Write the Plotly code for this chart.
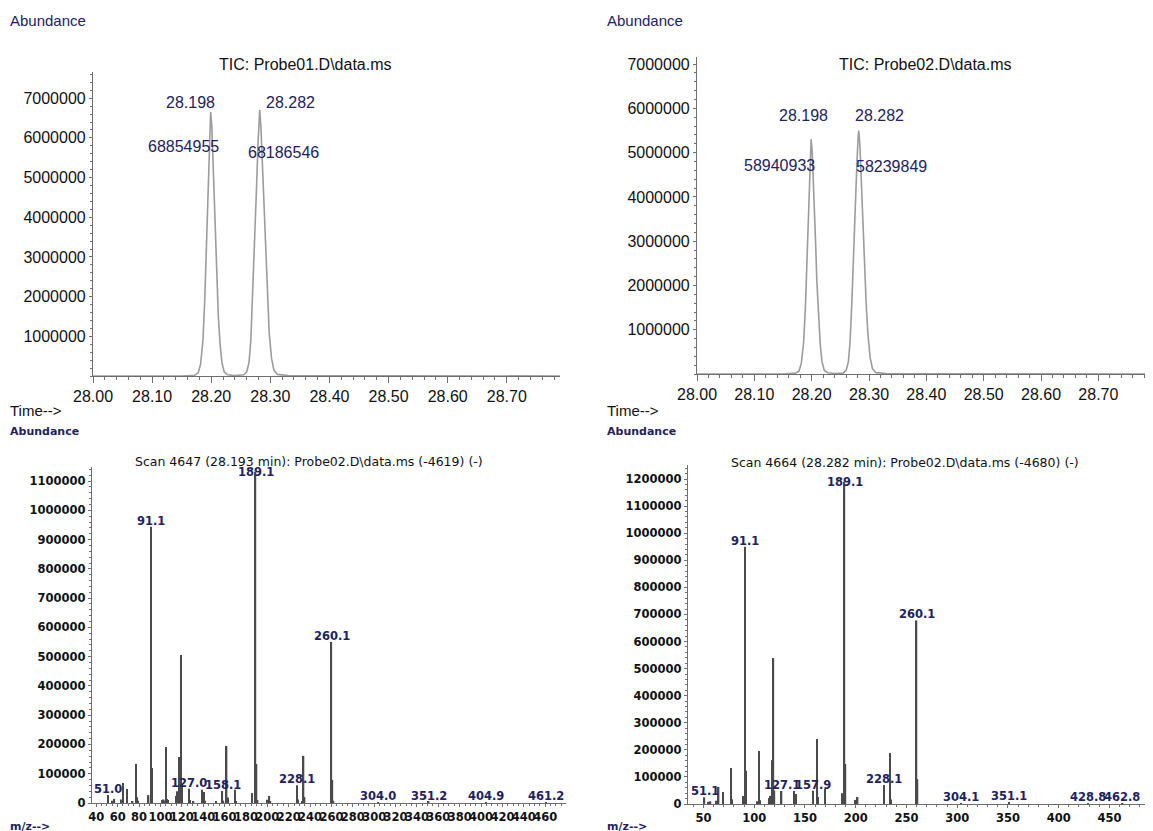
import plotly.graph_objects as go

# page offset (browser body margin) compensation
OX, OY = 8, 8
W, H = 1153 - OX, 831 - OY

# ---------------- TIC data (retention time in min, abundance) ----------------
tic_time = [28.000, 28.150, 28.172, 28.178, 28.182, 28.186, 28.189, 28.191, 28.193, 28.195,
            28.197, 28.198, 28.199, 28.201, 28.203, 28.205, 28.207, 28.209, 28.212, 28.215,
            28.218, 28.222, 28.228, 28.240, 28.255, 28.260, 28.264, 28.267, 28.270, 28.272,
            28.275, 28.277, 28.279, 28.281, 28.282, 28.284, 28.286, 28.288, 28.290, 28.292,
            28.295, 28.298, 28.302, 28.306, 28.312, 28.330, 28.790]
tic_probe01 = [0, 0, 20000, 80000, 300000, 900000, 1900000, 2900000, 3900000, 4900000,
               6000000, 6500000, 6650000, 6300000, 5500000, 4600000, 3600000, 2600000, 1500000, 800000,
               350000, 100000, 30000, 10000, 30000, 100000, 350000, 900000, 2000000, 2900000,
               4000000, 4900000, 5800000, 6500000, 6700000, 6300000, 5500000, 4700000, 3800000, 3000000,
               2000000, 1100000, 450000, 150000, 40000, 10000, 0]
tic_probe02 = [0, 0, 20000, 70000, 250000, 720000, 1500000, 2300000, 3100000, 3900000,
               4800000, 5200000, 5300000, 5000000, 4400000, 3700000, 2900000, 2100000, 1200000, 650000,
               280000, 80000, 30000, 10000, 20000, 80000, 280000, 740000, 1600000, 2400000,
               3300000, 4000000, 4800000, 5350000, 5500000, 5200000, 4500000, 3900000, 3100000, 2500000,
               1600000, 900000, 370000, 120000, 30000, 10000, 0]
tic_yticks = [1000000, 2000000, 3000000, 4000000, 5000000, 6000000, 7000000]
tic_xticks = [28.0, 28.1, 28.2, 28.3, 28.4, 28.5, 28.6, 28.7]

tic1_peaks = ["28.198", "28.282"]
tic1_areas = ["68854955", "68186546"]
tic2_peaks = ["28.198", "28.282"]
tic2_areas = ["58940933", "58239849"]

# ---------------- Mass spectra (m/z, abundance) ----------------
ms1_mz = [51, 55, 57, 63, 65, 69, 74, 77, 78, 79, 89, 91, 92, 102, 103, 104, 105, 106, 107,
          115, 116, 117, 118, 119, 120, 127, 128, 131, 139, 141, 142, 152, 158, 159, 162, 163,
          170, 171, 186, 189, 190, 191, 200, 202, 203, 228, 229, 233, 234, 235, 260, 261, 262,
          304, 351, 405, 461]
ms1_abund = [27000, 8000, 14000, 12000, 68000, 48000, 6000, 133000, 20000, 8000, 27000, 944000,
             120000, 10000, 12000, 8000, 191000, 14000, 10000, 24000, 40000, 30000, 157000, 506000,
             55000, 49000, 10000, 6000, 45000, 38000, 8000, 5000, 41000, 8000, 195000, 19000,
             45000, 5000, 34000, 1132000, 133000, 10000, 11000, 24000, 6000, 61000, 12000, 5000,
             161000, 20000, 550000, 79000, 8000, 3000, 5000, 3000, 3000]
ms1_labels = ["51.0", "91.1", "127.0", "158.1", "189.1", "228.1", "260.1",
              "304.0", "351.2", "404.9", "461.2"]

ms2_mz = [51, 55, 57, 63, 65, 69, 77, 78, 89, 91, 92, 103, 105, 106, 115, 116, 117, 118, 119,
          120, 127, 139, 141, 158, 162, 163, 170, 187, 189, 190, 200, 202, 228, 234, 235, 260,
          261, 304, 351, 429, 463]
ms2_abund = [25000, 8000, 10000, 12000, 63000, 44000, 133000, 18000, 30000, 950000, 123000,
             10000, 196000, 14000, 22000, 30000, 25000, 162000, 539000, 50000, 48000, 48000,
             37000, 49000, 240000, 26000, 55000, 40000, 1190000, 148000, 15000, 26000, 70000,
             188000, 17000, 678000, 92000, 3000, 6000, 3000, 3000]
ms2_labels = ["51.1", "91.1", "127.1", "157.9", "189.1", "228.1", "260.1",
              "304.1", "351.1", "428.8", "462.8"]

ms1_yticks = [0, 100000, 200000, 300000, 400000, 500000, 600000, 700000, 800000, 900000,
              1000000, 1100000]
ms2_yticks = [0, 100000, 200000, 300000, 400000, 500000, 600000, 700000, 800000, 900000,
              1000000, 1100000, 1200000]

NAVY = "#22225e"
AXC = "#6e6e6e"


def px(x):
    return (x - OX) / W


def py(y):
    return 1 - (y - OY) / H


fig = go.Figure()

fig.add_trace(go.Scatter(x=tic_time, y=tic_probe01, mode="lines",
                         line=dict(color="#9c9c9c", width=1.6), xaxis="x", yaxis="y"))
fig.add_trace(go.Scatter(x=tic_time, y=tic_probe02, mode="lines",
                         line=dict(color="#9c9c9c", width=1.6), xaxis="x2", yaxis="y2"))
fig.add_trace(go.Bar(x=ms1_mz, y=ms1_abund, width=1.3,
                     marker=dict(color="#4a4a4a", line=dict(width=0)), xaxis="x3", yaxis="y3"))
fig.add_trace(go.Bar(x=ms2_mz, y=ms2_abund, width=1.4,
                     marker=dict(color="#4a4a4a", line=dict(width=0)), xaxis="x4", yaxis="y4"))


def base_axis(**kw):
    d = dict(showgrid=False, zeroline=False, showline=True, linecolor=AXC, linewidth=1.2,
             ticks="outside", tickcolor=AXC, tickwidth=1, tickangle=0, fixedrange=True,
             automargin=False)
    d.update(kw)
    return d


tic_font = dict(family="Arial, Liberation Sans", size=16, color="#111111")
ms_font = dict(family="DejaVu Sans", size=11.5, color="#111111", weight="bold")

layout = dict(
    width=W, height=H, margin=dict(l=0, r=0, t=0, b=0, pad=0), autosize=False,
    paper_bgcolor="white", plot_bgcolor="white", showlegend=False,
    xaxis=base_axis(domain=[px(93), px(560)], range=[28.0, 28.79], anchor="y",
                    tickvals=tic_xticks, tickformat=".2f", ticklen=6,
                    tickfont=dict(family="Arial, Liberation Sans", size=16, color="#111"),
                    minor=dict(dtick=0.02, tick0=28.0, ticks="outside", ticklen=3, tickcolor=AXC)),
    yaxis=base_axis(domain=[py(376), py(72)], range=[0, 7660000], anchor="x",
                    tickvals=tic_yticks, tickformat="d", ticklen=3, tickfont=tic_font,
                    minor=dict(dtick=200000, tick0=0, ticks="outside", ticklen=2, tickcolor=AXC)),
    xaxis2=base_axis(domain=[px(697), px(1150)], range=[28.0, 28.79], anchor="y2",
                     tickvals=tic_xticks, tickformat=".2f", ticklen=6,
                     tickfont=dict(family="Arial, Liberation Sans", size=16, color="#111"),
                     minor=dict(dtick=0.02, tick0=28.0, ticks="outside", ticklen=3, tickcolor=AXC)),
    yaxis2=base_axis(domain=[py(374), py(57)], range=[0, 7160000], anchor="x2",
                     tickvals=tic_yticks, tickformat="d", ticklen=3, tickfont=tic_font,
                     minor=dict(dtick=200000, tick0=0, ticks="outside", ticklen=2, tickcolor=AXC)),
    xaxis3=base_axis(domain=[px(92), px(566)], range=[36, 479.5], anchor="y3",
                     dtick=20, tick0=0, ticklen=3, tickfont=ms_font,
                     minor=dict(dtick=5, tick0=0, ticks="outside", ticklen=2, tickcolor=AXC)),
    yaxis3=base_axis(domain=[py(803), py(467)], range=[0, 1148000], anchor="x3",
                     tickvals=ms1_yticks, tickformat="d", ticklen=3, tickfont=ms_font,
                     minor=dict(dtick=20000, tick0=0, ticks="outside", ticklen=2, tickcolor=AXC)),
    xaxis4=base_axis(domain=[px(688), px(1152)], range=[34.8, 492], anchor="y4",
                     dtick=50, tick0=0, ticklen=3, tickfont=ms_font,
                     minor=dict(dtick=10, tick0=0, ticks="outside", ticklen=2, tickcolor=AXC)),
    yaxis4=base_axis(domain=[py(804), py(465)], range=[0, 1252000], anchor="x4",
                     tickvals=ms2_yticks, tickformat="d", ticklen=3, tickfont=ms_font,
                     minor=dict(dtick=20000, tick0=0, ticks="outside", ticklen=2, tickcolor=AXC)),
)

ann = []


def text(x, y, s, size, color, family="Arial, Liberation Sans", xanchor="left", bold=False):
    ann.append(dict(x=px(x), y=py(y), xref="paper", yref="paper", text=(f"<b>{s}</b>" if bold else s),
                    showarrow=False, xanchor=xanchor, yanchor="middle", borderpad=0,
                    font=dict(family=family, size=size, color=color)))


# Top panel texts
for x0 in (9, 606):
    text(x0, 20, "Abundance", 15, NAVY)
    text(x0, 410, "Time-->", 15, "#111")
    text(x0, 432, "Abundance", 11, NAVY, family="DejaVu Sans", bold=True)
    text(x0, 826, "m/z-->", 11, NAVY, family="DejaVu Sans", bold=True)

text(306, 64, "TIC: Probe01.D\\data.ms", 16, "#111", xanchor="center")
text(925, 65, "TIC: Probe02.D\\data.ms", 16, "#111", xanchor="center")

# TIC peak labels
tic1_pos = [((190, 103), (183, 146)), ((290, 103), (283, 152))]
for (p_rt, p_ar), rt, ar in zip(tic1_pos, tic1_peaks, tic1_areas):
    text(p_rt[0], p_rt[1], rt, 16, NAVY, xanchor="center")
    text(p_ar[0], p_ar[1], ar, 16, NAVY, xanchor="center")
tic2_pos = [((803, 116), (779, 165)), ((879, 116), (891, 166))]
for (p_rt, p_ar), rt, ar in zip(tic2_pos, tic2_peaks, tic2_areas):
    text(p_rt[0], p_rt[1], rt, 16, NAVY, xanchor="center")
    text(p_ar[0], p_ar[1], ar, 16, NAVY, xanchor="center")

# Spectrum titles
text(309, 461, "Scan 4647 (28.193 min): Probe02.D\\data.ms (-4619) (-)", 12.5, "#111",
     family="DejaVu Sans", xanchor="center")
text(905, 462, "Scan 4664 (28.282 min): Probe02.D\\data.ms (-4680) (-)", 12.5, "#111",
     family="DejaVu Sans", xanchor="center")


def spectrum_labels(mzs, abunds, labels, xa, ya, ymax):
    lookup = dict(zip(mzs, abunds))
    for lab in labels:
        v = float(lab)
        key = min(mzs, key=lambda m: abs(m - v))
        a = lookup[key]
        top = a > 0.9 * ymax
        ann.append(dict(x=v, y=a, xref=xa, yref=ya, text=f"<b>{lab}</b>", showarrow=False,
                        xanchor="center", yanchor="middle" if top else "bottom",
                        yshift=0 if top else -2, borderpad=0,
                        font=dict(family="DejaVu Sans", size=11.5, color=NAVY)))


spectrum_labels(ms1_mz, ms1_abund, ms1_labels, "x3", "y3", 1148000)
spectrum_labels(ms2_mz, ms2_abund, ms2_labels, "x4", "y4", 1252000)

layout["annotations"] = ann
fig.update_layout(**layout)
fig.write_html("out.html")
